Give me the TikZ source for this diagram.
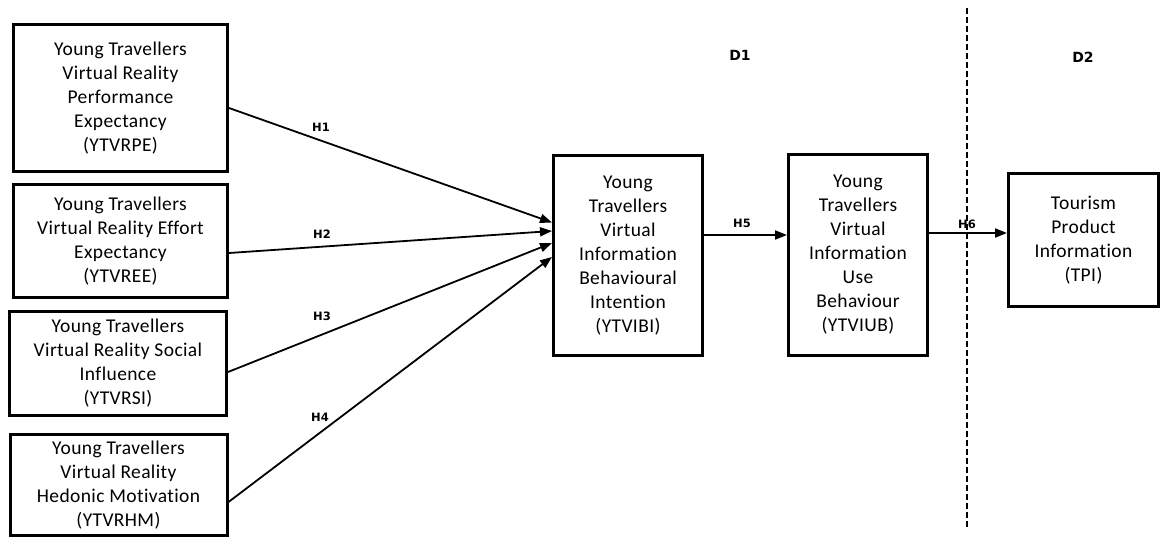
\documentclass[tikz,border=0pt]{standalone}
\usepackage{fontspec}
\setmainfont{Carlito}[Ligatures=NoCommon,LetterSpace=2]
\newfontfamily\lblfont{DejaVu Sans}
\usetikzlibrary{arrows.meta}
\begin{document}
\begin{tikzpicture}[x=1pt,y=-1pt,
  cbox/.style={draw,line width=3pt,align=center,inner sep=0pt,
    font=\fontsize{19.5}{24}\selectfont},
  hyp/.style={font=\lblfont\bfseries\fontsize{11.5}{13}\selectfont},
  dlab/.style={font=\lblfont\bfseries\fontsize{14}{16}\selectfont},
  arr/.style={line width=1.8pt,-{Triangle[length=12pt,width=9pt]}}]
\useasboundingbox (0,0) rectangle (1164,540);
\node[cbox,minimum width=214pt,minimum height=147pt] (b1) at (120.5,98)
  {Young Travellers\\Virtual Reality\\Performance\\Expectancy\\(YTVRPE)};
\node[cbox,minimum width=214pt,minimum height=113pt] (b2) at (120.5,241)
  {Young Travellers\\Virtual Reality Effort\\Expectancy\\(YTVREE)};
\node[cbox,minimum width=217pt,minimum height=104pt] (b3) at (118,363.5)
  {Young Travellers\\Virtual Reality Social\\Influence\\(YTVRSI)};
\node[cbox,minimum width=217pt,minimum height=101pt] (b4) at (118.5,485)
  {Young Travellers\\Virtual Reality\\Hedonic Motivation\\(YTVRHM)};
\node[cbox,minimum width=149pt,minimum height=200pt] (vibi) at (628,255.5)
  {Young\\Travellers\\Virtual\\Information\\Behavioural\\Intention\\(YTVIBI)};
\node[cbox,minimum width=139pt,minimum height=201pt] (viub) at (858,255)
  {Young\\Travellers\\Virtual\\Information\\Use\\Behaviour\\(YTVIUB)};
\node[cbox,minimum width=150pt,minimum height=133pt] (tpi) at (1083.5,240)
  {Tourism\\Product\\Information\\(TPI)};
\coordinate (dtop) at (967,8);
\coordinate (dbot) at (967,528);
\draw[line width=1.8pt,dash pattern=on 6pt off 3pt] (dtop) -- (dbot);
\draw[arr] ([yshift=-10pt]b1.east) -- ([yshift=33pt]vibi.west);
\draw[arr] ([yshift=-12pt]b2.east) -- ([yshift=24.5pt]vibi.west);
\draw[arr] ([yshift=-8.5pt]b3.east) -- ([yshift=12.5pt]vibi.west);
\draw[arr] ([yshift=-17pt]b4.east) -- ([yshift=-1.5pt]vibi.west);
\draw[arr] ([yshift=20.5pt]vibi.east) -- ([yshift=20pt]viub.west);
\draw[arr] ([yshift=22pt]viub.east) -- ([yshift=7pt]tpi.west);
\node[hyp] (h1) at (321,127) {H1};
\node[hyp] (h2) at (322,234) {H2};
\node[hyp] (h3) at (322,316) {H3};
\node[hyp] (h4) at (320,417) {H4};
\node[hyp] (h5) at (742,223) {H5};
\node[hyp] (h6) at (967,224) {H6};
\node[dlab] (d1) at (740,55) {D1};
\node[dlab] (d2) at (1083,57) {D2};
\end{tikzpicture}
\end{document}
